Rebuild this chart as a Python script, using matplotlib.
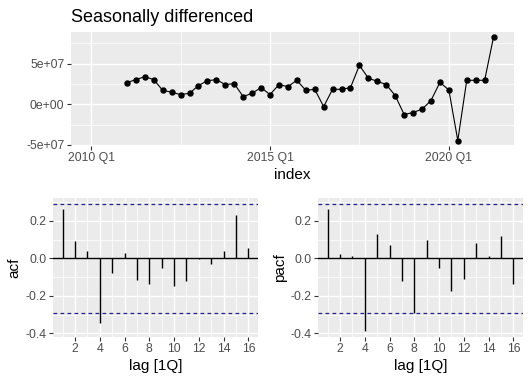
import numpy as np
import pandas as pd
import matplotlib
matplotlib.use("Agg")
import matplotlib.pyplot as plt

plt.rcParams['font.family'] = ['Liberation Sans', 'DejaVu Sans']

# seasonally differenced series, starts 2011 Q1 (2010 quarters are NA)
start = "2011Q1"
diff_vals = [2.66e7, 3.03e7, 3.40e7, 3.03e7, 1.72e7, 1.48e7, 1.19e7, 1.35e7,
             2.30e7, 2.90e7, 3.03e7, 2.42e7, 2.54e7, 0.94e7, 1.35e7, 2.05e7,
             1.19e7, 2.42e7, 2.17e7, 2.95e7, 1.72e7, 1.84e7, -0.29e7, 1.84e7,
             1.84e7, 2.05e7, 4.80e7, 3.20e7, 2.83e7, 2.42e7, 1.07e7, -1.27e7,
             -1.02e7, -0.61e7, 0.45e7, 2.70e7, 1.76e7, -4.47e7, 2.95e7, 2.95e7,
             2.95e7, 8.30e7]

lags = list(range(1, 17))
acf_vals = [0.263, 0.092, 0.039, -0.343, -0.076, 0.028, -0.114, -0.135,
            -0.050, -0.148, -0.119, -0.003, -0.028, 0.039, 0.233, 0.057]
pacf_vals = [0.263, 0.025, 0.014, -0.386, 0.132, 0.073, -0.119, -0.292,
             0.098, -0.050, -0.172, -0.108, 0.084, 0.014, 0.121, -0.135]
ci = 0.289

W, H = 531, 382
BG = "#EBEBEB"
TICKC = "#4D4D4D"


def px_axes(fig, left, right, top, bottom):
    return fig.add_axes([left / W, 1 - bottom / H, (right - left) / W, (bottom - top) / H])


def gg_style(ax):
    ax.set_facecolor(BG)
    for s in ax.spines.values():
        s.set_visible(False)
    ax.tick_params(which="major", length=2.7, width=0.8, color="#333333",
                   labelcolor=TICKC, labelsize=8.8, pad=2)
    ax.tick_params(which="minor", length=0)
    ax.grid(which="major", color="white", linewidth=1.0)
    ax.grid(which="minor", color="white", linewidth=0.5)
    ax.set_axisbelow(True)


fig = plt.figure(figsize=(W / 100, H / 100), dpi=100)

# top panel
idx = pd.period_range(start, periods=len(diff_vals), freq="Q")
x = idx.year + (idx.quarter - 1) / 4
ax = px_axes(fig, 71, 513.7, 31.7, 145.7)
gg_style(ax)
ax.plot(x, diff_vals, color="black", linewidth=0.8, marker="o", markersize=3.6)
x0, x1 = 2010.0, x.max()
pad = (x1 - x0) * 0.05
ax.set_xlim(x0 - pad, x1 + pad)
ymin, ymax = min(diff_vals), max(diff_vals)
ypad = (ymax - ymin) * 0.05
ax.set_ylim(ymin - ypad, ymax + ypad)
ax.set_xticks([2010, 2015, 2020])
ax.set_xticklabels(["2010 Q1", "2015 Q1", "2020 Q1"])
ax.set_xticks([2012.5, 2017.5], minor=True)
ax.set_yticks([-5e7, 0, 5e7])
ax.set_yticklabels(["-5e+07", "0e+00", "5e+07"])
ax.set_yticks([-2.5e7, 2.5e7, 7.5e7], minor=True)
ax.set_xlabel("index", fontsize=11, labelpad=3)
ax.set_title("Seasonally differenced", fontsize=13, loc="left", pad=7)

# acf / pacf panels
for (left, right), vals, name in [((53.3, 257.7), acf_vals, "acf"),
                                  ((318.3, 522.7), pacf_vals, "pacf")]:
    ax = px_axes(fig, left, right, 198.3, 336.7)
    gg_style(ax)
    ax.vlines(lags, 0, vals, color="black", linewidth=1.0)
    ax.axhline(0, color="black", linewidth=1.0)
    for c in (ci, -ci):
        ax.axhline(c, color="#22228a", linewidth=0.9, linestyle=(0, (3, 2.6)))
    ax.set_xlim(0.25, 16.75)
    ax.set_ylim(-0.418, 0.32)
    ax.set_xticks(range(2, 17, 2))
    ax.set_xticks(range(1, 17, 2), minor=True)
    ax.set_yticks([-0.4, -0.2, 0.0, 0.2])
    ax.set_yticklabels(["-0.4", "-0.2", "0.0", "0.2"])
    ax.set_yticks([-0.3, -0.1, 0.1, 0.3], minor=True)
    ax.set_xlabel("lag [1Q]", fontsize=11, labelpad=3)
    ax.set_ylabel(name, fontsize=11, labelpad=3)

fig.savefig("out.png", dpi=100)
